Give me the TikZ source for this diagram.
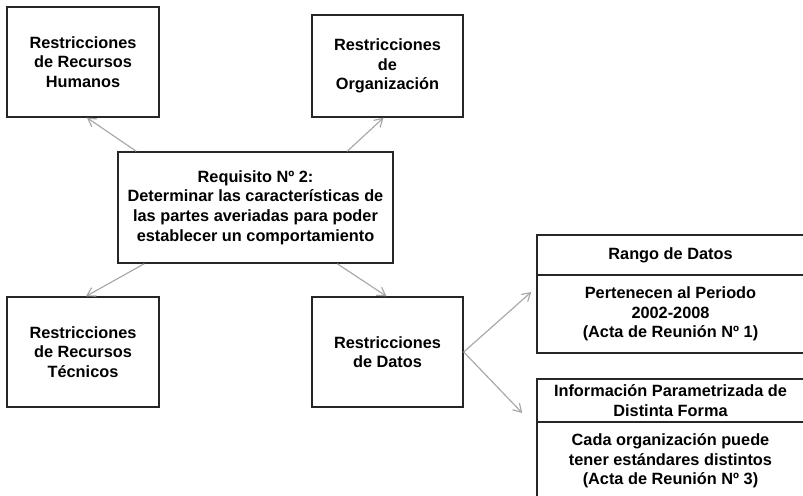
\documentclass[tikz,border=0pt]{standalone}
\usepackage{fontspec}
\setmainfont{Liberation Sans}
\usetikzlibrary{positioning,arrows.meta}
\tikzset{
  linkarrow/.style={-{Straight Barb[length=2mm, width=2.4mm]}, line width=0.8pt, gray!70},
  restbox/.style={draw=black!85, line width=1pt, fill=white, minimum width=3.8cm, minimum height=2.75cm, align=center},
  reqbox/.style={draw=black!85, line width=1pt, fill=white, minimum width=6.875cm, minimum height=2.775cm, align=center},
  headbox/.style={draw=black!85, line width=1pt, fill=white, minimum width=6.675cm, minimum height=1.0cm, align=center},
  bodybox/.style={draw=black!85, line width=1pt, fill=white, minimum width=6.675cm, minimum height=1.95cm, align=center}
}

\begin{document}
\begin{tikzpicture}[x=0.025cm, y=-0.025cm, every node/.style={font=\bfseries\fontsize{11.6}{13.9}\selectfont}]
  \clip (0,0) rectangle (803,495);
  \node[restbox] (hum) at (83,62) {Restricciones\\de Recursos\\Humanos};
  \node[restbox, minimum width=3.775cm, minimum height=2.55cm] (org) at (387.5,66) {Restricciones\\de\\Organización};
  \node[reqbox] (req) at (255.5,207.5) {Requisito Nº 2:\\Determinar las características de\\las partes averiadas para poder\\establecer un comportamiento};
  \node[restbox] (tec) at (83,352) {Restricciones\\de Recursos\\Técnicos};
  \node[restbox, minimum width=3.775cm] (dat) at (387.5,352) {Restricciones\\de Datos};
  \node[headbox] (rangoh) at (670.5,255) {Rango de Datos};
  \node[bodybox] (rangob) at (670.5,314) {Pertenecen al Periodo\\2002-2008\\(Acta de Reunión Nº 1)};
  \node[headbox, minimum height=1.075cm] (infoh) at (670.5,400.5) {Información Parametrizada de\\Distinta Forma};
  \node[bodybox, minimum height=1.95cm] (infob) at (670.5,461) {Cada organización puede\\tener estándares distintos\\(Acta de Reunión Nº 3)};
  \draw[linkarrow] ([shift={(19,0)}]req.north west) -- ([shift={(4,0)}]hum.south);
  \draw[linkarrow] ([shift={(230,0)}]req.north west) -- ([shift={(-4,0)}]org.south);
  \draw[linkarrow] ([shift={(27,0)}]req.south west) -- ([shift={(3,0)}]tec.north);
  \draw[linkarrow] ([shift={(220,0)}]req.south west) -- ([shift={(-1,0)}]dat.north);
  \draw[linkarrow] (dat.east) -- ([shift={(-5,-22)}]rangob.west);
  \draw[linkarrow] (dat.east) -- ([shift={(-14,12.5)}]infoh.west);
\end{tikzpicture}
\end{document}
